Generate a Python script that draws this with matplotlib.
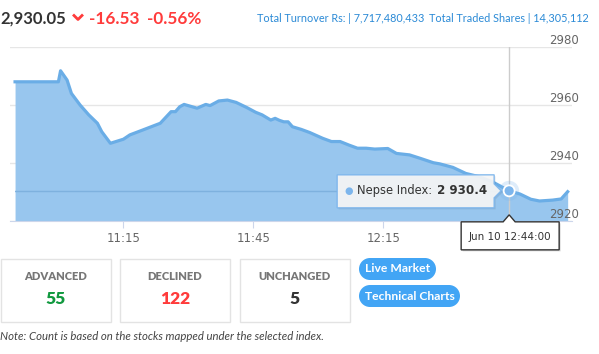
import numpy as np
import pandas as pd
import matplotlib
matplotlib.use('Agg')
import matplotlib.pyplot as plt
import matplotlib.dates as mdates
from matplotlib.patches import Rectangle, Polygon, Circle
from matplotlib.transforms import Affine2D

W, H = 599, 354

# Nepse index, Jun 10
times = ['10:50', '11:00', '11:00:30', '11:02', '11:03', '11:05', '11:07', '11:09',
         '11:10', '11:12', '11:15', '11:16:30', '11:19:30', '11:23:30', '11:26',
         '11:27', '11:28', '11:29', '11:32', '11:34', '11:35', '11:37', '11:39',
         '11:41', '11:43:30', '11:45:30', '11:47', '11:49', '11:50', '11:51',
         '11:52', '11:53', '11:54', '11:56', '11:58', '12:01', '12:03', '12:05',
         '12:07', '12:09', '12:11', '12:13', '12:16', '12:18', '12:21', '12:23:30',
         '12:26:30', '12:28', '12:31', '12:34', '12:37', '12:40', '12:44',
         '12:46:30', '12:49', '12:51', '12:54', '12:56', '12:57:30']
values = [2968.0, 2968.0, 2971.8, 2968.6, 2964.0, 2960.0, 2956.6, 2953.7,
          2950.8, 2946.8, 2948.2, 2949.7, 2951.4, 2953.7, 2957.7,
          2957.7, 2959.4, 2960.2, 2958.9, 2960.2, 2959.8, 2961.4, 2961.7,
          2960.9, 2959.1, 2957.5, 2956.6, 2954.8, 2955.4, 2954.7,
          2954.2, 2954.2, 2952.5, 2951.6, 2950.5, 2948.5, 2947.4, 2947.4,
          2946.2, 2945.1, 2945.1, 2944.8, 2945.0, 2943.3, 2942.8, 2941.6,
          2940.1, 2939.7, 2938.5, 2936.4, 2935.3, 2933.6, 2930.4,
          2929.3, 2927.5, 2926.9, 2927.2, 2927.6, 2930.1]

hover_time = '12:44'
hover_value = 2930.4
x_ticks = ['11:15', '11:45', '12:15']
y_ticks = [2920, 2940, 2960, 2980]

last_price = '2,930.05'
change = '-16.53'
change_pct = '-0.56%'
turnover = '7,717,480,433'
traded_shares = '14,305,112'

breadth_labels = ['ADVANCED', 'DECLINED', 'UNCHANGED']
breadth_counts = [55, 122, 5]
breadth_colors = ['#11993f', '#ff3b3b', '#333333']

day = '2020-06-10 '
t = pd.to_datetime([day + s for s in times], format='mixed')
th = pd.to_datetime(day + hover_time)

fig = plt.figure(figsize=(W / 100, H / 100), dpi=100)
T = Affine2D().scale(1, -1).translate(0, H)   # pixel coords, origin top-left

ax = fig.add_axes([10 / W, 1 - 221 / H, 562 / W, 174 / H])
area = ax.fill_between(t, values, 2920, color='#98c6ee', lw=0, zorder=2)
ax.plot(t, values, color='#6aade6', lw=2.3, zorder=3, solid_joinstyle='round')
hl = ax.axhline(hover_value, color='#7eb1de', lw=1, zorder=2.5)
hl.set_clip_path(area.get_paths()[0], transform=ax.transData)
ax.axvline(th, color='#cccccc', lw=1, zorder=4)

ax.set_xlim(pd.to_datetime(day + '10:48:50'), pd.to_datetime(day + '12:58:30'))
ax.set_ylim(2920, 2980)
ax.set_yticks(y_ticks)
ax.yaxis.grid(True, color='#e6e6e6', lw=1, zorder=0)
ax.set_axisbelow(True)
ax.tick_params(axis='y', length=0, labelleft=False)
for v in y_ticks:
    ax.text(1.012, v, str(v), transform=ax.get_yaxis_transform(), ha='right',
            va='bottom', fontsize=8.5, color='#666666')
ax.set_xticks(pd.to_datetime([day + s for s in x_ticks]))
ax.xaxis.set_major_formatter(mdates.DateFormatter('%H:%M'))
ax.tick_params(axis='x', length=5, color='#ccd6eb', labelcolor='#666666',
               labelsize=8.5, pad=3)
for s in ['top', 'left', 'right']:
    ax.spines[s].set_visible(False)
ax.spines['bottom'].set_color('#ccd6eb')

# hover marker
fig.canvas.draw()
px, py = ax.transData.transform((mdates.date2num(th), hover_value))
py = H - py
fig.patches.append(Circle((px, py), 10, transform=T, color='#7cb5ec', alpha=0.25, lw=0))
fig.patches.append(Circle((px, py), 5.5, transform=T, facecolor='#7cb5ec',
                          edgecolor='white', lw=1.3))

# value tooltip
box = [(px - 172, py - 16), (px - 15, py - 16), (px - 15, py - 7), (px - 8, py),
       (px - 15, py + 7), (px - 15, py + 17), (px - 172, py + 17)]
fig.patches.append(Polygon([(x + 1.5, y + 1.5) for x, y in box], transform=T,
                           facecolor='#000000', alpha=0.08, lw=0))
fig.patches.append(Polygon(box, transform=T, facecolor='#f7f7f7', alpha=0.92,
                           edgecolor='#7cb5ec', lw=1))
fig.text(px - 160, py, '\u25cf', transform=T, color='#7cb5ec', fontsize=7,
         ha='center', va='center')
fig.text(px - 152, py, 'Nepse Index:', transform=T, color='#333333',
         fontsize=8.3, va='center')
fig.text(px - 72, py, f'{hover_value:,.1f}'.replace(',', ' '), transform=T,
         color='#333333', fontsize=8.6, fontweight='bold', va='center')

# date tooltip
dbox = [(px - 48, py + 31), (px - 6, py + 31), (px, py + 24), (px + 6, py + 31),
        (px + 50, py + 31), (px + 50, py + 59), (px - 48, py + 59)]
fig.patches.append(Polygon([(x + 1.5, y + 1.5) for x, y in dbox], transform=T,
                           facecolor='#000000', alpha=0.15, lw=0))
fig.patches.append(Polygon(dbox, transform=T, facecolor='white',
                           edgecolor='#333333', lw=1))
fig.text(px + 1, py + 46, th.strftime('%b %d %H:%M:%S'), transform=T, color='#333333',
         fontsize=7.5, ha='center', va='center')

# header
fig.text(0, 19, last_price, transform=T, fontsize=12, fontweight='bold',
         color='#333333', va='center', family='Lato')
fig.add_artist(plt.Line2D([74 / W, 78 / W, 82 / W], [1 - 15.5 / H, 1 - 19.5 / H, 1 - 15.5 / H],
                          color='#ff3b3b', lw=2))
fig.text(89, 19, change, transform=T, fontsize=12.3, fontweight='bold',
         color='#ff3b3b', va='center', family='Lato')
fig.text(147, 19, change_pct, transform=T, fontsize=12.3, fontweight='bold',
         color='#ff3b3b', va='center', family='Lato')
fig.text(257, 19, f'Total Turnover Rs: | {turnover}', transform=T, fontsize=7.8,
         color='#2b8ad6', va='center', family='Lato')
fig.text(589, 19, f'Total Traded Shares | {traded_shares}', transform=T, fontsize=7.8,
         color='#2b8ad6', va='center', ha='right', family='Lato')

# market breadth boxes
for i, (lab, cnt, col) in enumerate(zip(breadth_labels, breadth_counts, breadth_colors)):
    x0 = 0.5 + i * 119.5
    fig.patches.append(Rectangle((x0, 258.5), 110, 63, transform=T, facecolor='white',
                                 edgecolor='#e3e3e3', lw=1))
    fig.text(x0 + 55, 276, lab, transform=T, fontsize=8, fontweight='heavy',
             color='#777777', ha='center', va='center', family='Lato')
    fig.text(x0 + 55, 299, str(cnt), transform=T, fontsize=12.5, fontweight='heavy',
             color=col, ha='center', va='center', family='Lato')

for lab, y0, w in [('Live Market', 258, 77), ('Technical Charts', 285, 101)]:
    fig.patches.append(Rectangle((359 + 11, y0), w - 22, 22, transform=T,
                                 facecolor='#42a5f5', lw=0))
    fig.patches.append(Circle((359 + 11, y0 + 11), 11, transform=T, color='#42a5f5', lw=0))
    fig.patches.append(Circle((359 + w - 11, y0 + 11), 11, transform=T, color='#42a5f5', lw=0))
    fig.text(359 + w / 2, y0 + 11, lab, transform=T, fontsize=8.7, fontweight='bold',
             color='white', ha='center', va='center', family='Lato')

fig.text(0, 337, 'Note: Count is based on the stocks mapped under the selected index.',
         transform=T, fontsize=8.2, style='italic', color='#444444', va='center',
         family='Lato')

fig.savefig('out.png', dpi=100)
